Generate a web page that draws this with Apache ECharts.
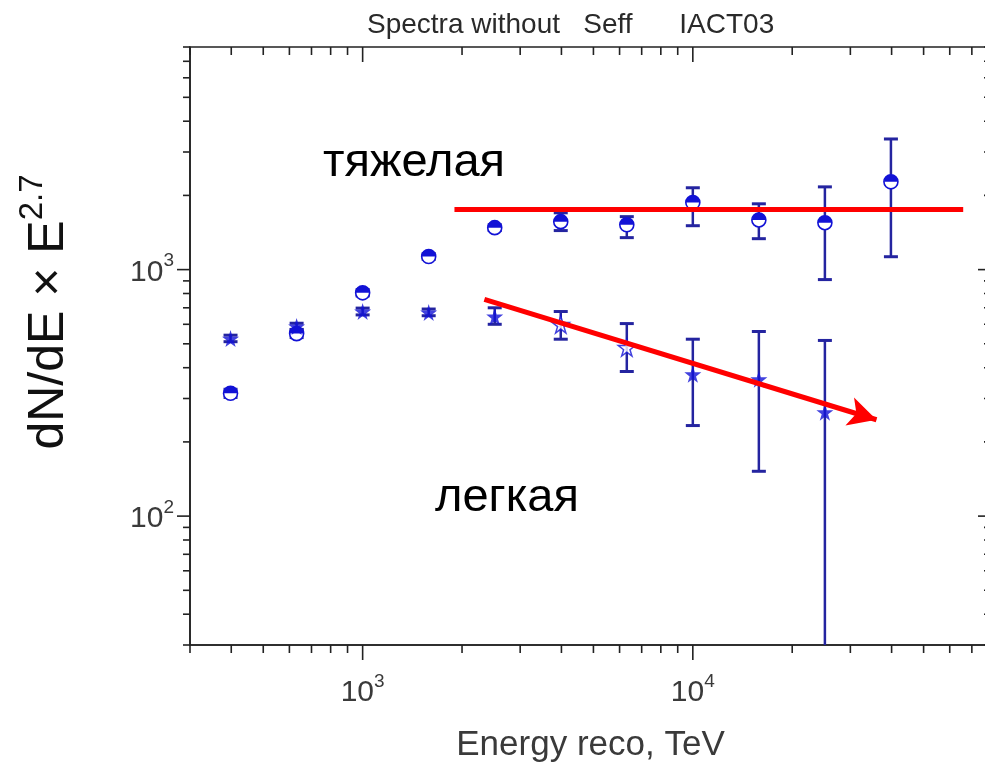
<!DOCTYPE html>
<html><head><meta charset="utf-8">
<script src="https://cdn.jsdelivr.net/npm/echarts@6/dist/echarts.min.js"></script>
<style>html,body{margin:0;padding:0;background:#fff}#c{width:985px;height:771px}</style>
</head><body><div id="c"></div>
<script>
// ---- data ----
const energies = [398, 631, 1000, 1585, 2512, 3981, 6310, 10000, 15849, 25119, 39811];
const heavyValues = [315, 550, 805, 1130, 1480, 1565, 1520, 1870, 1590, 1550, 2270];
const heavyLow    = [303, 530, 782, 1100, 1440, 1440, 1348, 1507, 1335, 911, 1128];
const heavyHigh   = [327, 572, 830, 1162, 1522, 1700, 1640, 2148, 1849, 2166, 3388];
const lightEnergies = [398, 631, 1000, 1585, 2512, 3981, 6310, 10000, 15849, 25119];
const lightValues = [525, 588, 676, 670, 645, 599, 483, 376, 359, 264];
const lightLow    = [510, 570, 655, 650, 600, 522, 386, 233, 152, 20];
const lightHigh   = [542, 606, 698, 692, 700, 676, 604, 522, 561, 516];
const xMajorTicks = [1000, 10000];
const xMinorTicks = [300, 400, 500, 600, 700, 800, 900, 2000, 3000, 4000, 5000, 6000, 7000, 8000, 9000, 20000, 30000, 40000, 50000, 60000, 70000, 80000];
const yMajorTicks = [100, 1000];
const yMinorTicks = [30, 40, 50, 60, 70, 80, 90, 200, 300, 400, 500, 600, 700, 800, 900, 2000, 3000, 4000, 5000, 6000, 7000, 8000];
const heavyTrend = [[1897, 1750], [65900, 1750]];
const lightTrend = [[2337, 757], [36000, 246]];
const titleText = 'Spectra without   Seff      IACT03';
const xName = 'Energy reco, TeV';
const heavyLabel = 'тяжелая';
const lightLabel = 'легкая';
const xMin = 300, xMax = 80000, yMin = 30, yMax = 8000;

// ---- styles ----
const FONT = 'Liberation Sans, Arial, sans-serif';
const BLUE = '#1212d6';
const NAVY = '#2424a0';
const AXIS = '#222';
const RED = '#ff0000';

function pow10Label(v) {
  const e = Math.round(Math.log10(v));
  if (Math.abs(v - Math.pow(10, e)) < 1e-6 * v) return '{b|10}{s|' + e + '}';
  return '';
}
const labelRich = {
  b: {fontSize: 30, fontFamily: FONT, color: '#3a3a3a', lineHeight: 36, verticalAlign: 'bottom'},
  s: {fontSize: 19, fontFamily: FONT, color: '#3a3a3a', lineHeight: 36, verticalAlign: 'top'}
};

function line(x1, y1, x2, y2, stroke, w) {
  return {type: 'line', shape: {x1, y1, x2, y2}, style: {stroke, lineWidth: w}};
}
function xTickRender(len) {
  return function (params, api) {
    const cs = params.coordSys;
    const p = api.coord([api.value(0), yMin]);
    const b = cs.y + cs.height, t = cs.y;
    return {type: 'group', children: [line(p[0], b, p[0], b + len, AXIS, 1.6), line(p[0], t, p[0], t + len, AXIS, 1.6)]};
  };
}
function yTickRender(len) {
  return function (params, api) {
    const cs = params.coordSys;
    const p = api.coord([xMin, api.value(1)]);
    const l = cs.x, r = cs.x + cs.width;
    return {type: 'group', children: [line(l - len, p[1], l, p[1], AXIS, 1.6), line(r - len, p[1], r, p[1], AXIS, 1.6)]};
  };
}
function errRender(params, api) {
  const cs = params.coordSys;
  const x = api.value(0);
  const pHi = api.coord([x, api.value(2)]);
  const pLo = api.coord([x, api.value(1)]);
  const bottom = cs.y + cs.height;
  let yLo = pLo[1], capLo = true;
  if (yLo > bottom) { yLo = bottom; capLo = false; }
  const w = 7;
  const ch = [line(pHi[0], pHi[1], pHi[0], yLo, NAVY, 2.5), line(pHi[0] - w, pHi[1], pHi[0] + w, pHi[1], NAVY, 3)];
  if (capLo) ch.push(line(pHi[0] - w, yLo, pHi[0] + w, yLo, NAVY, 3));
  return {type: 'group', children: ch};
}
function halfCircleRender(params, api) {
  const p = api.coord([api.value(0), api.value(1)]);
  const r = 7;
  return {type: 'group', children: [
    {type: 'circle', shape: {cx: p[0], cy: p[1], r}, style: {fill: '#fff', stroke: BLUE, lineWidth: 1.6}},
    {type: 'sector', shape: {cx: p[0], cy: p[1], r0: 0, r: r, startAngle: Math.PI, endAngle: 2 * Math.PI, clockwise: true}, style: {fill: BLUE}}
  ]};
}
const STAR = 'path://M50,0 L61,35 L98,35 L68,57 L79,91 L50,70 L21,91 L32,57 L2,35 L39,35 Z';
const hollowStars = [5, 6];

const chart = echarts.init(document.getElementById('c'), null, {renderer: 'canvas'});
chart.setOption({
  animation: false,
  backgroundColor: '#fff',
  title: {text: titleText, left: 362, top: 6, textStyle: {fontFamily: FONT, fontSize: 28, fontWeight: 'normal', color: '#2a2a2a'}},
  grid: {left: 190, top: 47, right: -6, bottom: 126, containLabel: false, outerBoundsMode: 'none',
    show: true, borderColor: AXIS, borderWidth: 1.6, backgroundColor: 'transparent'},
  xAxis: {
    type: 'log', logBase: 10, min: xMin, max: xMax,
    name: xName, nameLocation: 'middle', nameGap: 83,
    nameTextStyle: {fontFamily: FONT, fontSize: 35, color: '#3a3a3a'},
    axisLine: {show: true, lineStyle: {color: AXIS, width: 1.6}},
    axisTick: {show: false}, splitLine: {show: false},
    axisLabel: {margin: 27, formatter: pow10Label, rich: labelRich}
  },
  yAxis: {
    type: 'log', logBase: 10, min: yMin, max: yMax,
    name: '{a|dN/dE × E}{s|2.7}', nameLocation: 'middle', nameRotate: 90, nameGap: 116,
    nameTextStyle: {padding: [0, 0, 0, 68], rich: {
      a: {fontSize: 50, fontFamily: FONT, color: '#111', lineHeight: 58, verticalAlign: 'bottom'},
      s: {fontSize: 33, fontFamily: FONT, color: '#111', lineHeight: 58, verticalAlign: 'top'}}},
    axisLine: {show: true, lineStyle: {color: AXIS, width: 1.6}},
    axisTick: {show: false}, splitLine: {show: false},
    axisLabel: {margin: 16, formatter: pow10Label, rich: labelRich}
  },
  graphic: [
    {type: 'text', left: 323, top: 140, style: {text: heavyLabel, font: '47px ' + FONT, fill: '#000'}},
    {type: 'text', left: 435, top: 475, style: {text: lightLabel, font: '47px ' + FONT, fill: '#000'}}
  ],
  series: [
    {type: 'custom', name: 'xMajor', renderItem: xTickRender(15), data: xMajorTicks.map(v => [v, yMin]), silent: true, z: 1},
    {type: 'custom', name: 'xMinor', renderItem: xTickRender(8), data: xMinorTicks.map(v => [v, yMin]), silent: true, z: 1},
    {type: 'custom', name: 'yMajor', renderItem: yTickRender(13), data: yMajorTicks.map(v => [xMin, v]), silent: true, z: 1},
    {type: 'custom', name: 'yMinor', renderItem: yTickRender(7), data: yMinorTicks.map(v => [xMin, v]), silent: true, z: 1},
    {type: 'custom', name: 'heavyErr', renderItem: errRender, data: energies.map((e, i) => [e, heavyLow[i], heavyHigh[i]]), silent: true, z: 2},
    {type: 'custom', name: 'lightErr', renderItem: errRender, data: lightEnergies.map((e, i) => [e, lightLow[i], lightHigh[i]]), silent: true, z: 2},
    {type: 'custom', name: 'тяжелая', renderItem: halfCircleRender, data: energies.map((e, i) => [e, heavyValues[i]]), silent: true, z: 3},
    {type: 'scatter', name: 'легкая', symbol: STAR, symbolSize: 17, z: 3, silent: true,
      itemStyle: {color: BLUE},
      data: lightEnergies.map((e, i) => hollowStars.includes(i)
        ? {value: [e, lightValues[i]], itemStyle: {color: '#fff', borderColor: BLUE, borderWidth: 1.5}}
        : [e, lightValues[i]]),
      markLine: {
        silent: true, animation: false, symbol: ['none', 'none'], label: {show: false},
        lineStyle: {color: RED, width: 5, type: 'solid'}, z: 5,
        data: [
          [{coord: heavyTrend[0]}, {coord: heavyTrend[1]}],
          [{coord: lightTrend[0]}, {coord: lightTrend[1], symbol: 'arrow', symbolSize: [22, 28]}]
        ]
      }
    }
  ]
});
</script></body></html>
